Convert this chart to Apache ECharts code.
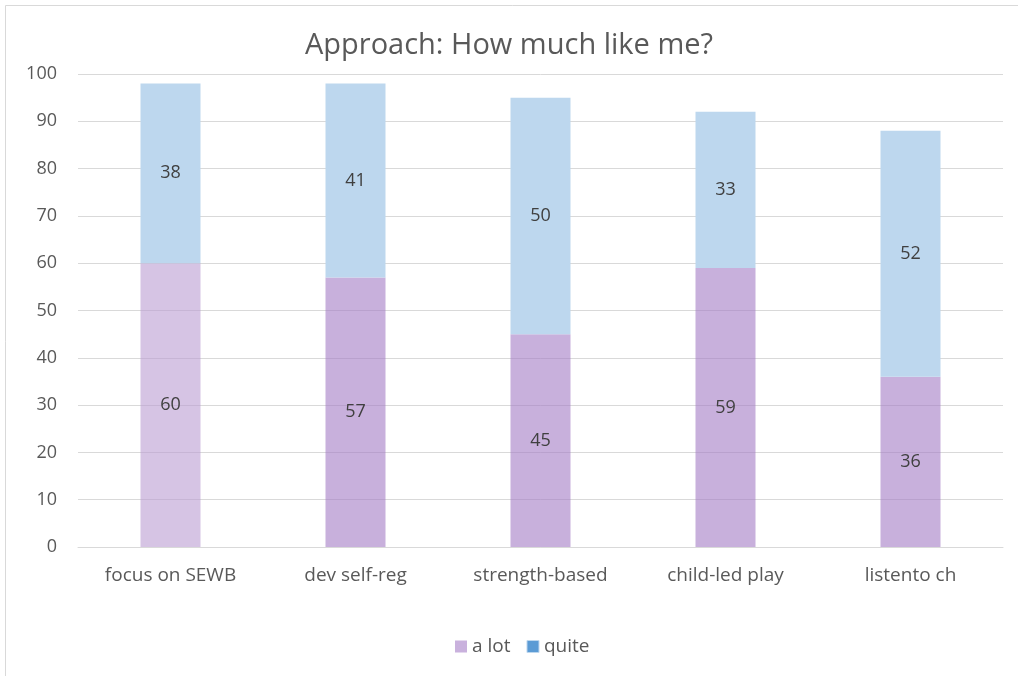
<!DOCTYPE html>
<html>
<head>
<meta charset="utf-8">
<script src="https://cdn.jsdelivr.net/npm/echarts@6/dist/echarts.min.js"></script>
<style>html,body{margin:0;padding:0;background:#fff}#c{width:1018px;height:676px}</style>
</head>
<body>
<div id="c"></div>
<script>
const categories = ['focus on SEWB', 'dev self-reg', 'strength-based', 'child-led play', 'listento ch'];
const aLot = [60, 57, 45, 59, 36];
const quite = [38, 41, 50, 33, 52];
const yTicks = [0, 10, 20, 30, 40, 50, 60, 70, 80, 90, 100];

const font = '"Open Sans", "Noto Sans", sans-serif';
const purple = 'rgba(163,123,197,0.6)';
const purpleLight = 'rgba(187,157,210,0.6)';

const chart = echarts.init(document.getElementById('c'), null, {renderer: 'canvas'});
chart.setOption({
  animation: false,
  backgroundColor: '#fff',
  title: {
    text: 'Approach: How much like me?',
    left: 'center', top: 26,
    textStyle: {fontFamily: font, fontSize: 29, fontWeight: 'normal', color: '#595959'}
  },
  graphic: [{
    type: 'rect', shape: {x: 5.5, y: 5.5, width: 1030, height: 700},
    style: {fill: 'none', stroke: '#d9d9d9', lineWidth: 1}, silent: true
  }],
  legend: {
    bottom: 15, left: 450,
    itemWidth: 12, itemHeight: 12, itemGap: 16,
    textStyle: {fontFamily: font, fontSize: 19, color: '#595959'},
    data: [
      {name: 'a lot', icon: 'rect', itemStyle: {color: '#c9b1dd'}},
      {name: 'quite', icon: 'rect', itemStyle: {color: '#5b9bd5', borderColor: '#bdd7ee', borderWidth: 1}}
    ]
  },
  grid: {left: 78, right: 15, top: 74, bottom: 129, containLabel: false},
  xAxis: {
    type: 'category', data: categories,
    axisLine: {lineStyle: {color: '#d9d9d9'}},
    axisTick: {show: false},
    axisLabel: {fontFamily: font, fontSize: 19, color: '#595959', margin: 19}
  },
  yAxis: {
    type: 'value', min: yTicks[0], max: yTicks[yTicks.length - 1], interval: 10,
    axisLine: {show: false}, axisTick: {show: false},
    axisLabel: {fontFamily: font, fontSize: 18, color: '#595959', margin: 21},
    splitLine: {lineStyle: {color: '#d9d9d9', width: 1}}
  },
  series: [
    {
      name: 'a lot', type: 'bar', stack: 's', barWidth: 60,
      data: aLot.map((v, i) => ({value: v, itemStyle: {color: i === 0 ? purpleLight : purple}})),
      itemStyle: {color: purple},
      label: {show: true, position: 'inside', fontFamily: font, fontSize: 18, color: '#404040'}
    },
    {
      name: 'quite', type: 'bar', stack: 's', barWidth: 60,
      data: quite,
      itemStyle: {color: '#bdd7ee'},
      label: {show: true, position: 'inside', fontFamily: font, fontSize: 18, color: '#404040'}
    }
  ]
});
</script>
</body>
</html>
